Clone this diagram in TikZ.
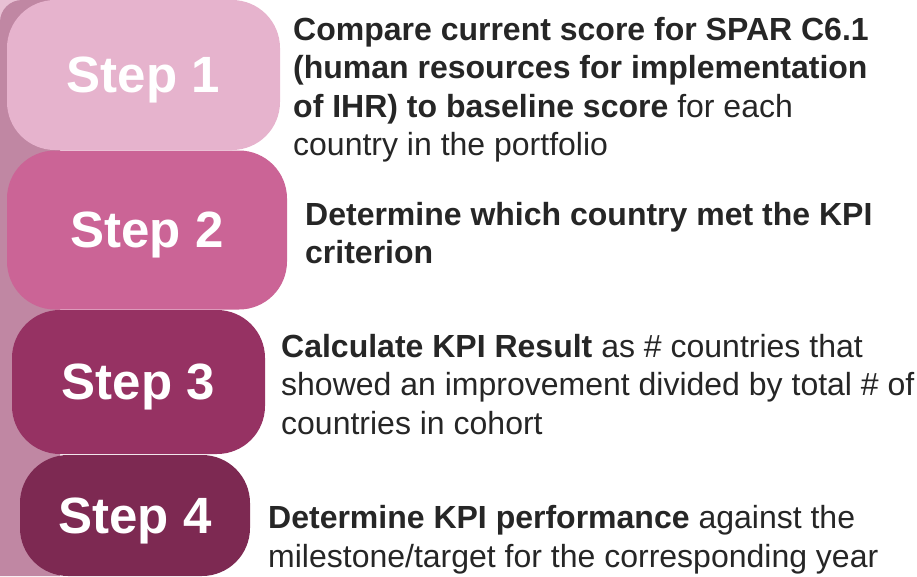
\documentclass[tikz,border=0pt]{standalone}
\usepackage{fontspec}
\setmainfont{Liberation Sans}
\usetikzlibrary{positioning}
\definecolor{bandcol}{HTML}{C087A3}
\definecolor{cornercol}{HTML}{E8C0D4}
\definecolor{stepA}{HTML}{E6B3CD}
\definecolor{stepB}{HTML}{CB6496}
\definecolor{stepC}{HTML}{963263}
\definecolor{stepD}{HTML}{7D2952}
\definecolor{txtgray}{HTML}{262626}
\tikzset{
  stepbox/.style={rectangle, rounded corners=48pt, inner sep=0pt, text=white,
    text depth=0pt, font=\fontsize{51}{60}\selectfont\bfseries},
  desc/.style={anchor=base west, align=left, inner sep=0pt, text=txtgray,
    font=\fontsize{32}{38.5}\selectfont},
}

\begin{document}
\begin{tikzpicture}[x=1pt, y=-1pt]
  \useasboundingbox (0,0) rectangle (917,576);
  % band behind the steps
  \fill[cornercol] (0,0) rectangle (30,30);
  \fill[bandcol] (0,576) -- (0,22) arc[start angle=180, end angle=270, radius=22] -- (60,0) -- (60,576) -- cycle;
  % steps
  \node[stepbox, fill=stepA, minimum width=273pt, minimum height=150pt] (s1) at (143.5,75) {Step 1};
  \node[stepbox, fill=stepB, minimum width=280pt, minimum height=159pt] (s2) at (147,230) {Step 2};
  \node[stepbox, fill=stepC, minimum width=253pt, minimum height=144pt] (s3) at (138.5,382) {Step 3};
  \node[stepbox, fill=stepD, minimum width=230pt, minimum height=121pt] (s4) at (135,515.5) {Step 4};
  % descriptions (anchored at the baseline of the last line)
  \node[desc] (t1) at (293,155.5) {\textbf{Compare current score for SPAR C6.1}\\
    \textbf{(human resources for implementation}\\
    \textbf{of IHR) to baseline score} for each\\
    country in the portfolio};
  \node[desc] (t2) at (305,263.5) {\textbf{Determine which country met the KPI}\\
    \textbf{criterion}};
  \node[desc] (t3) at (281,434) {\textbf{Calculate KPI Result} as \# countries that\\
    showed an improvement divided by total \# of\\
    countries in cohort};
  \node[desc] (t4) at (268,567) {\textbf{Determine KPI performance} against the\\
    milestone/target for the corresponding year};
\end{tikzpicture}
\end{document}
